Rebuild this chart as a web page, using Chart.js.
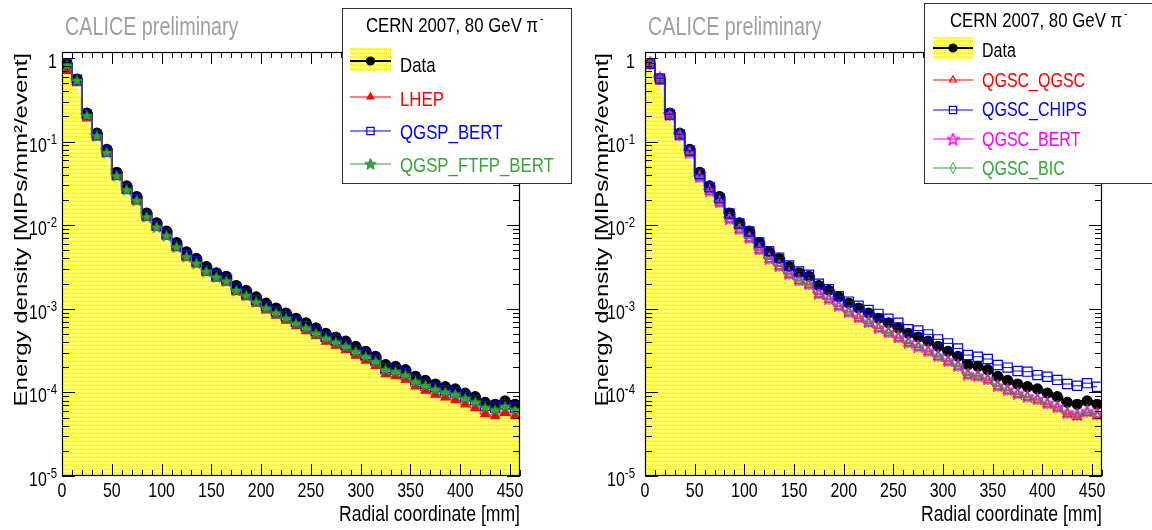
<!DOCTYPE html>
<html><head><meta charset="utf-8">
<script src="https://cdn.jsdelivr.net/npm/chart.js@4.4.1/dist/chart.umd.min.js"></script>
<style>
html,body{margin:0;padding:0;background:#fff;overflow:hidden}
#wrap{position:relative;width:1152px;height:530px}
canvas{position:absolute;top:0}
#c1{left:0}#c2{left:576px}
</style></head>
<body><div id="wrap"><canvas id="c1" width="576" height="530"></canvas><canvas id="c2" width="576" height="530"></canvas></div>
<script>
// ---------------- data ----------------
const radii = [5,15,25,35,45,55,65,75,85,95,105,115,125,135,145,155,165,175,185,195,205,215,225,235,245,255,265,275,285,295,305,315,325,335,345,355,365,375,385,395,405,415,425,435,445,455];
const dataVals = [0.85,0.56,0.22,0.126,0.081,0.043,0.0295,0.022,0.014,0.0107,0.0085,0.0062,0.0048,0.0040,0.0032,0.0027,0.00245,0.0019,0.00166,0.00139,0.00117,0.00102,0.00089,0.00077,0.00068,0.00059,0.00051,0.00046,0.00041,0.000355,0.00031,0.00027,0.000215,0.000205,0.000187,0.000156,0.000139,0.000126,0.000117,0.000110,0.000098,0.000089,0.000076,0.000072,0.000079,0.000072];
const bandLow = [0.72,0.47,0.18,0.104,0.066,0.034,0.0235,0.0173,0.011,0.0083,0.0065,0.0048,0.0037,0.0031,0.00245,0.00207,0.00187,0.00145,0.00126,0.00105,0.00088,0.00077,0.00067,0.00058,0.00051,0.000445,0.000385,0.000345,0.000305,0.000265,0.000232,0.000203,0.000161,0.000153,0.00014,0.000117,0.000104,0.000094,0.000087,0.000082,0.000073,0.000066,0.000056,0.000053,0.000058,0.000053];
const lhep = [0.70,0.50,0.19,0.112,0.072,0.038,0.026,0.0192,0.0122,0.0093,0.0073,0.0053,0.0041,0.0034,0.0027,0.0023,0.00205,0.00158,0.00138,0.00115,0.00096,0.00083,0.00072,0.00062,0.00054,0.00047,0.000405,0.000362,0.00032,0.000275,0.00024,0.000208,0.000165,0.000156,0.000142,0.000118,0.000105,0.000094,0.000087,0.000081,0.000072,0.000065,0.000055,0.000052,0.000057,0.000052];
const qgspBert = [0.84,0.55,0.21,0.12,0.076,0.040,0.0275,0.0205,0.0131,0.0099,0.0079,0.0057,0.0044,0.0037,0.0029,0.0025,0.00225,0.00174,0.00152,0.00127,0.00107,0.00093,0.00081,0.0007,0.00062,0.00054,0.000465,0.00042,0.000373,0.000323,0.000282,0.000246,0.000196,0.000187,0.00017,0.000142,0.000127,0.000115,0.000106,0.0001,0.000089,0.000081,0.000069,0.000066,0.000072,0.000066];
const qgspFtfpBert = [0.82,0.54,0.205,0.117,0.074,0.039,0.0265,0.0198,0.0126,0.0095,0.0075,0.0055,0.0042,0.0035,0.0028,0.0024,0.00215,0.00166,0.00145,0.00121,0.00102,0.00089,0.00077,0.00067,0.00059,0.00051,0.000445,0.0004,0.000356,0.000308,0.000269,0.000235,0.000187,0.000178,0.000162,0.000135,0.000121,0.000109,0.000101,0.000095,0.000085,0.000077,0.000066,0.000062,0.000068,0.000062];
const qgscQgsc = [0.80,0.52,0.20,0.115,0.072,0.037,0.025,0.0185,0.0117,0.0088,0.0069,0.0050,0.0039,0.0032,0.00255,0.00215,0.00192,0.00148,0.00128,0.00106,0.00089,0.00077,0.00067,0.00058,0.00051,0.000445,0.000385,0.000345,0.000305,0.000265,0.000232,0.000202,0.00016,0.000153,0.00014,0.000117,0.000104,0.000094,0.000087,0.000081,0.000072,0.000065,0.000055,0.000051,0.000057,0.000052];
const qgscChips = [0.86,0.57,0.21,0.122,0.078,0.041,0.0285,0.021,0.0138,0.0105,0.0084,0.0062,0.0049,0.0041,0.0033,0.0028,0.00255,0.002,0.00172,0.00142,0.00122,0.00109,0.00097,0.00087,0.00076,0.00068,0.00057,0.00055,0.000495,0.000431,0.000386,0.000336,0.00028,0.000267,0.000251,0.000213,0.000198,0.00018,0.000177,0.000161,0.000154,0.000141,0.000126,0.00012,0.000129,0.000117];
const qgscBert = [0.88,0.58,0.21,0.12,0.075,0.038,0.026,0.019,0.012,0.0091,0.0071,0.0052,0.004,0.0033,0.00265,0.00222,0.002,0.00154,0.00133,0.0011,0.00093,0.0008,0.0007,0.0006,0.00053,0.00046,0.0004,0.000358,0.000316,0.000275,0.00024,0.00021,0.000166,0.000159,0.000145,0.000121,0.000108,0.000098,0.00009,0.000084,0.000075,0.000068,0.000058,0.000055,0.00006,0.000056];
const qgscBic = [0.84,0.55,0.205,0.117,0.073,0.0375,0.0255,0.0188,0.0119,0.009,0.007,0.0051,0.00395,0.00325,0.0026,0.00219,0.00196,0.00151,0.0013,0.00108,0.00091,0.00079,0.00069,0.00059,0.00052,0.000455,0.000395,0.000352,0.00031,0.00027,0.000236,0.000206,0.000163,0.000156,0.000143,0.000119,0.000106,0.000096,0.000088,0.000082,0.000073,0.000066,0.000056,0.000053,0.000058,0.000054];

const xTickValues = [0,50,100,150,200,250,300,350,400,450];
const xTickLabels = ['0','50','100','150','200','250','300','350','400','450'];
const yTickValues = [1e-5,1e-4,1e-3,1e-2,1e-1,1];
const yTickBase = ['10','10','10','10','10','1'];
const yTickExp = ['-5','-4','-3','-2','-1',''];
const X_MIN = 0, X_MAX = 460, Y_MIN = 1e-5, Y_MAX = 1.18;

const leftLabels = ['Data','LHEP','QGSP_BERT','QGSP_FTFP_BERT'];
const rightLabels = ['Data','QGSC_QGSC','QGSC_CHIPS','QGSC_BERT','QGSC_BIC'];

// ---------------- styling helpers ----------------
const FONT = '"Liberation Sans", Arial, Helvetica, sans-serif';
const SX = 0.8;
const GREEN = '#37a537';

function makePattern(){
  const c=document.createElement('canvas'); c.width=4; c.height=4;
  const g=c.getContext('2d');
  g.fillStyle='#f8f24e'; g.fillRect(0,0,4,4);
  g.fillStyle='#fcf9a6';
  g.fillRect(1,0,1,1); g.fillRect(3,1,1,1); g.fillRect(1,2,1,1); g.fillRect(3,2,1,1);
  g.fillStyle='#fffde8'; g.fillRect(0,3,4,1);
  return g.createPattern(c,'repeat');
}
const yellow = makePattern();

function starImg(size, fill, stroke, lw){
  const c=document.createElement('canvas'); c.width=size; c.height=size;
  const g=c.getContext('2d'); g.beginPath();
  for(let i=0;i<10;i++){
    const r = i%2 ? size*0.2 : size*0.47;
    const a = -Math.PI/2 + i*Math.PI/5;
    g.lineTo(size/2 + r*Math.cos(a), size/2 + 0.5 + r*Math.sin(a));
  }
  g.closePath();
  if(fill){g.fillStyle=fill; g.fill();}
  if(stroke){g.strokeStyle=stroke; g.lineWidth=lw; g.stroke();}
  return c;
}
function diamondImg(w,h,stroke){
  const c=document.createElement('canvas'); c.width=w+2; c.height=h+2;
  const g=c.getContext('2d'); g.beginPath();
  g.moveTo(c.width/2,1); g.lineTo(c.width-1,c.height/2); g.lineTo(c.width/2,c.height-1); g.lineTo(1,c.height/2); g.closePath();
  g.strokeStyle=stroke; g.lineWidth=1; g.stroke();
  return c;
}
const greenStar = starImg(13, GREEN, '#1f7a1f', 0.8);
const magStar = starImg(13, null, '#ff00ff', 1.5);
const greenDiamond = diamondImg(6,11,GREEN);

function pts(vals){ return radii.map((r,i)=>({x:r, y:vals[i]})); }

function bandDataset(){
  const d = pts(bandLow);
  d.unshift({x:X_MIN, y:bandLow[0]});
  d.push({x:X_MAX, y:bandLow[bandLow.length-1]});
  return {label:'band', data:d, borderWidth:0, pointRadius:0, fill:'start', backgroundColor:yellow, order:10, tension:0};
}
function series(label, vals, color, style, radius, bg, lineW, order){
  return {label, data:pts(vals), borderColor:color, borderWidth:lineW, stepped:'middle', fill:false,
    pointStyle:style, pointRadius:radius, pointBackgroundColor:bg, pointBorderColor:color, pointBorderWidth:1.2, order};
}

function drawText(ctx, str, x, y, size, align, color, sx){
  ctx.save(); ctx.translate(x,y); ctx.scale(sx||SX,1);
  ctx.font = size+'px '+FONT; ctx.textAlign=align; ctx.textBaseline='alphabetic';
  ctx.fillStyle=color; ctx.fillText(str,0,0); ctx.restore();
}
function textW(ctx,str,size,sx){ ctx.save(); ctx.font=size+'px '+FONT; const w=ctx.measureText(str).width*(sx||SX); ctx.restore(); return w; }

// ---------------- decoration plugin ----------------
const deco = {
  id:'deco',
  afterDatasetsDraw(chart, args, o){
    const {ctx, chartArea:a, scales:{x,y}} = chart;
    ctx.save();
    ctx.strokeStyle='#000'; ctx.lineWidth=1;
    ctx.beginPath();
    for(let v=X_MIN; v<=X_MAX; v+=10){
      const px=Math.round(x.getPixelForValue(v))+0.5;
      const L = (v%50===0)?12:6;
      ctx.moveTo(px,a.bottom); ctx.lineTo(px,a.bottom-L);
      ctx.moveTo(px,a.top); ctx.lineTo(px,a.top+L);
    }
    for(let d=-5; d<=0; d++){
      for(let m=1; m<=9; m++){
        const v=m*Math.pow(10,d); if(v>Y_MAX) break;
        const py=Math.round(y.getPixelForValue(v))+0.5;
        const L = (m===1)?13:7;
        ctx.moveTo(a.left,py); ctx.lineTo(a.left+L,py);
        ctx.moveTo(a.right,py); ctx.lineTo(a.right-L,py);
      }
    }
    ctx.stroke();
    ctx.lineWidth=1.2;
    ctx.strokeRect(a.left+0.5, a.top+0.5, a.right-a.left-1, a.bottom-a.top-1);
    ctx.restore();
  },
  afterDraw(chart, args, o){
    const {ctx, chartArea:a, scales:{x,y}} = chart;
    xTickValues.forEach((v,i)=>{
      drawText(ctx, xTickLabels[i], x.getPixelForValue(v), a.bottom+21, 21, 'center', '#000', 0.76);
    });
    yTickValues.forEach((v,i)=>{
      const py=y.getPixelForValue(v);
      const right=a.left-o.yLabelGap;
      const wb=textW(ctx,yTickBase[i],21,0.76);
      const we=yTickExp[i]?textW(ctx,yTickExp[i],15,0.76):0;
      drawText(ctx, yTickBase[i], right-we-wb, py+10, 21, 'left', '#000', 0.76);
      if(yTickExp[i]) drawText(ctx, yTickExp[i], right-we, py+2, 15, 'left', '#000', 0.76);
    });
    drawText(ctx, 'Radial coordinate [mm]', a.right, a.bottom+45, 22, 'right', '#000', 0.8);
    ctx.save();
    ctx.translate(o.yTitleX, a.top+1); ctx.scale(0.8,1); ctx.rotate(-Math.PI/2);
    ctx.font='24px '+FONT; ctx.textAlign='right'; ctx.textBaseline='alphabetic'; ctx.fillStyle='#000';
    ctx.fillText('Energy density [MIPs/mm\u00B2/event]',0,0);
    ctx.restore();
    drawText(ctx, 'CALICE preliminary', o.calX, 35, 26, 'left', '#a0a0a0', 0.76);
    const L=o.legend;
    ctx.save();
    ctx.fillStyle='#fff'; ctx.fillRect(L.x,L.y,L.w,L.h);
    ctx.strokeStyle='#333'; ctx.lineWidth=1; ctx.strokeRect(L.x+0.5,L.y+0.5,L.w,L.h);
    ctx.restore();
    drawText(ctx, 'CERN 2007, 80 GeV \u03C0', L.titleX-6, L.titleY, 21, 'center', '#000', 0.8);
    drawText(ctx, '-', L.titleX+textW(ctx,'CERN 2007, 80 GeV \u03C0',21,0.8)/2-4, L.titleY-9, 13, 'left', '#000', 0.8);
    const metas = chart.data.datasets;
    L.entries.forEach((e)=>{
      const ds = metas[e.ds];
      ctx.save();
      if(e.band){ ctx.fillStyle=yellow; ctx.fillRect(L.sx1, e.bandY, L.sx2-L.sx1, e.bandH); }
      ctx.strokeStyle=ds.borderColor; ctx.lineWidth=ds.borderWidth;
      ctx.beginPath(); ctx.moveTo(L.sx1,e.lineY); ctx.lineTo(L.sx2,e.lineY); ctx.stroke();
      ctx.fillStyle=ds.pointBackgroundColor; ctx.strokeStyle=ds.pointBorderColor; ctx.lineWidth=1.2;
      Chart.helpers.drawPoint(ctx, {pointStyle:ds.pointStyle, radius:(ds.pointRadius||4)*0.8, rotation:0, borderWidth:1.2}, (L.sx1+L.sx2)/2, e.lineY);
      ctx.restore();
      drawText(ctx, ds.label, L.textX, e.baseY, L.size, 'left', e.color, 0.8);
    });
  }
};

function makeChart(id, datasets, pad, opts){
  return new Chart(document.getElementById(id), {
    type:'line',
    data:{datasets},
    options:{
      responsive:false, animation:false, events:[],
      layout:{padding:pad},
      scales:{
        x:{type:'linear', min:X_MIN, max:X_MAX, display:false},
        y:{type:'logarithmic', min:Y_MIN, max:Y_MAX, display:false}
      },
      plugins:{legend:{display:false}, tooltip:{enabled:false}, deco:opts}
    },
    plugins:[deco]
  });
}

makeChart('c1', [
  series(leftLabels[0], dataVals, '#000000', 'circle', 5, '#000000', 2, 5),
  series(leftLabels[1], lhep, '#ff0000', 'triangle', 5, '#ff0000', 1, 3),
  series(leftLabels[2], qgspBert, '#0000ff', 'rect', 6.5, 'rgba(0,0,0,0)', 1, 2),
  series(leftLabels[3], qgspFtfpBert, GREEN, greenStar, 6.5, GREEN, 1, 1),
  bandDataset()
], {left:62, right:56, top:52, bottom:54}, {
  yLabelGap:5, yTitleX:27, calX:65,
  legend:{x:342, y:8, w:229, h:175, titleX:458, titleY:32, sx1:350, sx2:391, textX:400, size:21,
    entries:[
      {ds:0, baseY:72, lineY:61, band:true, bandY:48, bandH:24, color:'#000'},
      {ds:1, baseY:106, lineY:97, color:'#ff0000'},
      {ds:2, baseY:139, lineY:131, color:'#0000ff'},
      {ds:3, baseY:172, lineY:164, color:GREEN}
    ]}
});

makeChart('c2', [
  series(rightLabels[0], dataVals, '#000000', 'circle', 5, '#000000', 2, 5),
  series(rightLabels[1], qgscQgsc, '#ff0000', 'triangle', 5, 'rgba(0,0,0,0)', 1, 3),
  series(rightLabels[2], qgscChips, '#0000ff', 'rect', 6.5, 'rgba(0,0,0,0)', 1, 0),
  series(rightLabels[3], qgscBert, '#ff00ff', magStar, 6.5, '#ff00ff', 1, 2),
  series(rightLabels[4], qgscBic, GREEN, greenDiamond, 5.5, GREEN, 1, 1),
  bandDataset()
], {left:69, right:50, top:52, bottom:54}, {
  yLabelGap:10, yTitleX:32, calX:72,
  legend:{x:348, y:3, w:260, h:180, titleX:466, titleY:27, sx1:357, sx2:397, textX:406, size:20,
    entries:[
      {ds:0, baseY:57, lineY:48, band:true, bandY:37, bandH:22, color:'#000'},
      {ds:1, baseY:87, lineY:80, color:'#ff0000'},
      {ds:2, baseY:116, lineY:110, color:'#0000ff'},
      {ds:3, baseY:146, lineY:139, color:'#ff00ff'},
      {ds:4, baseY:175, lineY:168, color:GREEN}
    ]}
});
</script>
</body></html>
